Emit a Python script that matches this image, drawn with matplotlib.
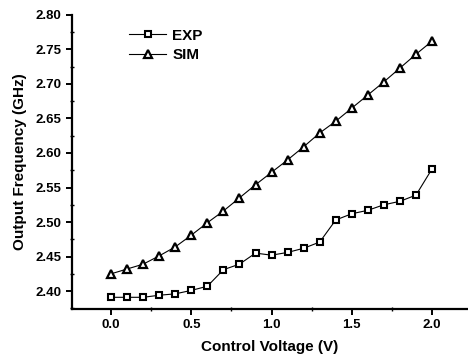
import matplotlib
matplotlib.use("Agg")
import matplotlib.pyplot as plt
from matplotlib.ticker import MultipleLocator

voltage = [0.0, 0.1, 0.2, 0.3, 0.4, 0.5, 0.6, 0.7, 0.8, 0.9, 1.0,
           1.1, 1.2, 1.3, 1.4, 1.5, 1.6, 1.7, 1.8, 1.9, 2.0]
exp_freq = [2.391, 2.391, 2.391, 2.394, 2.396, 2.401, 2.407, 2.431, 2.439, 2.455, 2.452,
            2.456, 2.462, 2.471, 2.503, 2.512, 2.517, 2.525, 2.530, 2.539, 2.577]
sim_freq = [2.425, 2.432, 2.439, 2.451, 2.464, 2.481, 2.499, 2.516, 2.535, 2.554, 2.572,
            2.590, 2.609, 2.629, 2.646, 2.665, 2.684, 2.703, 2.723, 2.743, 2.762]

plt.rcParams['font.family'] = ['Liberation Sans', 'DejaVu Sans']
plt.rcParams['font.weight'] = 'bold'

fig = plt.figure(figsize=(4.68, 3.54), dpi=100)
ax = fig.add_axes([0.154, 0.127, 0.846, 0.831])

ax.plot(voltage, exp_freq, color='black', lw=0.8, marker='s', ms=4.5,
        mfc='white', mec='black', mew=1.5, label='EXP')
ax.plot(voltage, sim_freq, color='black', lw=0.8, marker='^', ms=5.5,
        mfc='white', mec='black', mew=1.6, label='SIM')

ax.set_xlim(-0.243, 2.224)
ax.set_ylim(2.374, 2.80)
ax.xaxis.set_major_locator(MultipleLocator(0.5))
ax.xaxis.set_minor_locator(MultipleLocator(0.25))
ax.yaxis.set_major_locator(MultipleLocator(0.05))
ax.yaxis.set_minor_locator(MultipleLocator(0.025))
ax.yaxis.set_major_formatter(matplotlib.ticker.FormatStrFormatter('%.2f'))
ax.xaxis.set_major_formatter(matplotlib.ticker.FormatStrFormatter('%.1f'))

for s in ['top', 'right']:
    ax.spines[s].set_visible(False)
for s in ['left', 'bottom']:
    ax.spines[s].set_linewidth(1.6)

ax.tick_params(axis='both', which='major', direction='out', length=4, width=1.4,
               labelsize=9.5)
ax.tick_params(axis='both', which='minor', direction='inout', length=3, width=1.0)
for lab in ax.get_xticklabels() + ax.get_yticklabels():
    lab.set_fontweight('bold')

ax.set_xlabel('Control Voltage (V)', fontsize=11, fontweight='bold', labelpad=6)
ax.set_ylabel('Output Frequency (GHz)', fontsize=11, fontweight='bold', labelpad=6)

leg = ax.legend(loc='upper left', bbox_to_anchor=(0.11, 1.0), frameon=False,
                handlelength=2.4, handletextpad=0.4, labelspacing=0.35,
                prop={'weight': 'bold', 'size': 11})

fig.savefig('out.png', dpi=100)
